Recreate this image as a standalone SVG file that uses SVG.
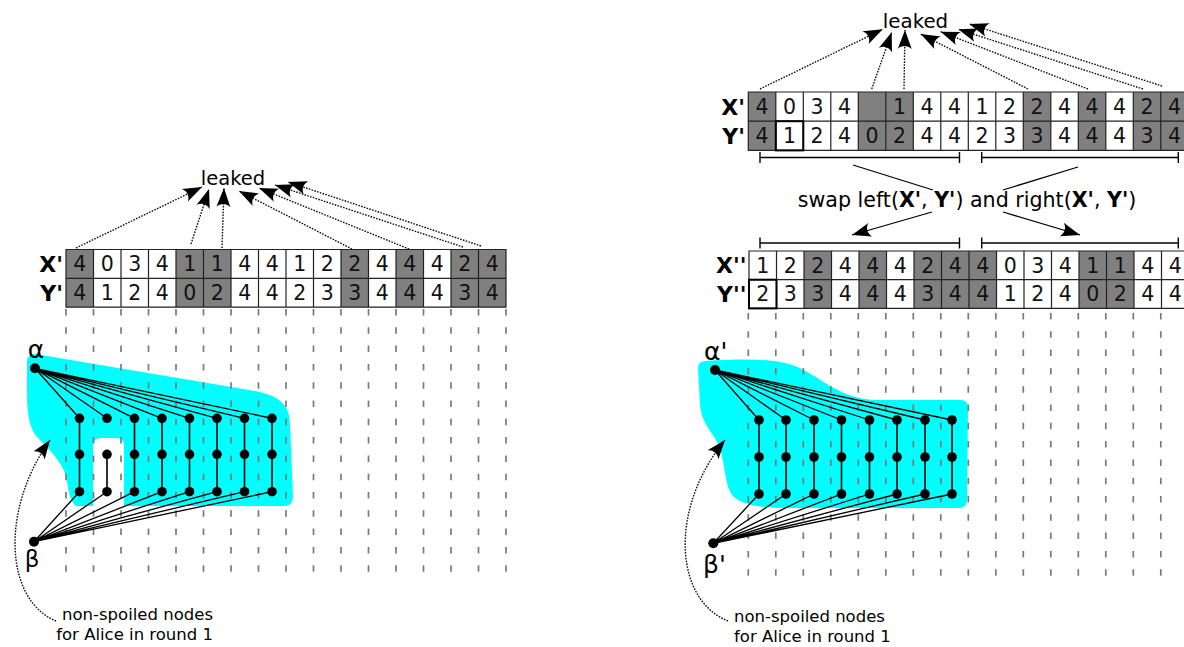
<svg xmlns="http://www.w3.org/2000/svg" width="1184" height="647" viewBox="0 0 1184 647">
<defs>
<marker id="ah" viewBox="-20 -8 21 16" markerWidth="21" markerHeight="16" refX="0" refY="0" orient="auto" markerUnits="userSpaceOnUse" overflow="visible">
<path d="M0,0 L-19,-7 C-15,-2.8 -15,2.8 -19,7 Z" fill="#000" stroke="none"/>
</marker>
<style>
.t{font-family:"DejaVu Sans",sans-serif;fill:#000}
.d{font-family:"DejaVu Sans",sans-serif;font-size:20.5px;text-anchor:middle;fill:#111}
.lb{font-family:"DejaVu Sans",sans-serif;font-size:22px;font-weight:bold;text-anchor:end}
.sh{fill:#808080}
.bg{fill:#fff}
.grid{fill:none;stroke:#222;stroke-width:1.2}
.dash{fill:none;stroke:#7a7a7a;stroke-width:1.7;stroke-dasharray:6.5 11.8}
.dot{fill:none;stroke:#111;stroke-width:1.4;stroke-dasharray:1.6 1.3}
.ln{fill:none;stroke:#000;stroke-width:1.3}
.vl{fill:none;stroke:#000;stroke-width:1.6}
.blob{fill:#00ffff}
.n{fill:#000}
.br{fill:none;stroke:#000;stroke-width:1.4}
</style>
</defs>
<rect width="1184" height="647" fill="#fff"/>

<!-- ========== LEFT ========== -->
<path class="blob" d="M27,362 Q27,354 35,354 L255,391 C280,396 290,405 290,425 L293,496 Q293,506 284,506 L124,506 L124,446 Q124,438 116,438 L101,438 Q93,438 93,446 L93,506 L76,506 C70,502 68,488 66,476 C62,462 48,448 38,438 C30,430 27,415 27,395 Z"/>

<path class="dash" d="M66,309V578 M93.5,309V578 M121,309V578 M148.5,309V578 M176,309V578 M203.5,309V578 M231,309V578 M258.5,309V578 M286,309V578 M313.5,309V578 M341,309V578 M368.5,309V578 M396,309V578 M423.5,309V578 M451,309V578 M478.5,309V578 M506,309V578"/>

<g id="L-table" transform="translate(66,249.5)">
<rect class="bg" x="0" y="0" width="440" height="57.6"/>
<rect class="sh" x="0" y="0" width="27.5" height="57.6"/>
<rect class="sh" x="110" y="0" width="55" height="57.6"/>
<rect class="sh" x="275" y="0" width="27.5" height="57.6"/>
<rect class="sh" x="330" y="0" width="27.5" height="57.6"/>
<rect class="sh" x="385" y="0" width="55" height="57.6"/>
<path class="grid" d="M0,0H440V57.6H0Z M0,28.8H440 M27.5,0V57.6 M55,0V57.6 M82.5,0V57.6 M110,0V57.6 M137.5,0V57.6 M165,0V57.6 M192.5,0V57.6 M220,0V57.6 M247.5,0V57.6 M275,0V57.6 M302.5,0V57.6 M330,0V57.6 M357.5,0V57.6 M385,0V57.6 M412.5,0V57.6"/>
<text class="d" y="21.9"><tspan x="13.75">4</tspan><tspan x="41.25">0</tspan><tspan x="68.75">3</tspan><tspan x="96.25">4</tspan><tspan x="123.75">1</tspan><tspan x="151.25">1</tspan><tspan x="178.75">4</tspan><tspan x="206.25">4</tspan><tspan x="233.75">1</tspan><tspan x="261.25">2</tspan><tspan x="288.75">2</tspan><tspan x="316.25">4</tspan><tspan x="343.75">4</tspan><tspan x="371.25">4</tspan><tspan x="398.75">2</tspan><tspan x="426.25">4</tspan></text>
<text class="d" y="50.7"><tspan x="13.75">4</tspan><tspan x="41.25">1</tspan><tspan x="68.75">2</tspan><tspan x="96.25">4</tspan><tspan x="123.75">0</tspan><tspan x="151.25">2</tspan><tspan x="178.75">4</tspan><tspan x="206.25">4</tspan><tspan x="233.75">2</tspan><tspan x="261.25">3</tspan><tspan x="288.75">3</tspan><tspan x="316.25">4</tspan><tspan x="343.75">4</tspan><tspan x="371.25">4</tspan><tspan x="398.75">3</tspan><tspan x="426.25">4</tspan></text>
</g>
<text class="lb" x="63" y="271.8">X'</text>
<text class="lb" x="63" y="300.6">Y'</text>

<g id="L-leaked"><text class="t" x="233" y="185" font-size="19.5" text-anchor="middle">leaked</text></g>

<g id="L-connectors">
<path class="dot" marker-end="url(#ah)" d="M76,248 L202,187"/>
<path class="dot" marker-end="url(#ah)" d="M191,244 L209,189"/>
<path class="dot" marker-end="url(#ah)" d="M222,248 L224,188"/>
<path class="dot" marker-end="url(#ah)" d="M352,249 L239,191"/>
<path class="dot" marker-end="url(#ah)" d="M409,249 L259,188"/>
<path class="dot" marker-end="url(#ah)" d="M463,247 L275,185"/>
<path class="dot" marker-end="url(#ah)" d="M481,246 L288,182"/>
<path class="ln" d="M35,368.3L79.5,418.3 M35,368.3L107,418.3 M35,368.3L134.5,418.3 M35,368.3L162,418.3 M35,368.3L189.5,418.3 M35,368.3L217,418.3 M35,368.3L244.5,418.3 M35,368.3L272,418.3"/>
<path class="vl" d="M79.5,418.3V491.7 M107,454.3V491.7 M134.5,418.3V491.7 M162,418.3V491.7 M189.5,418.3V491.7 M217,418.3V491.7 M244.5,418.3V491.7 M272,418.3V491.7"/>
<path class="ln" d="M34,541.7L79.5,491.7 M34,541.7L107,491.7 M34,541.7L134.5,491.7 M34,541.7L162,491.7 M34,541.7L189.5,491.7 M34,541.7L217,491.7 M34,541.7L244.5,491.7 M34,541.7L272,491.7"/>
<path class="dot" marker-end="url(#ah)" d="M56,621 C5,600 0,510 50,440"/>
</g>

<g id="L-alpha"><circle class="n" cx="35" cy="368.3" r="5"/><text class="t" x="36" y="357.5" font-size="25" text-anchor="middle">α</text></g>
<g id="L-beta"><circle class="n" cx="34" cy="541.7" r="5"/><text class="t" x="32" y="567" font-size="23" text-anchor="middle">β</text></g>
<g id="L-c0t"><circle class="n" cx="79.5" cy="418.3" r="4.8"/></g>
<g id="L-c0m"><circle class="n" cx="79.5" cy="454.3" r="4.8"/></g>
<g id="L-c0b"><circle class="n" cx="79.5" cy="491.7" r="4.8"/></g>
<g id="L-c1t"><circle class="n" cx="107" cy="418.3" r="4.8"/></g>
<g id="L-c1m"><circle class="n" cx="107" cy="454.3" r="4.8"/></g>
<g id="L-c1b"><circle class="n" cx="107" cy="491.7" r="4.8"/></g>
<g id="L-c2t"><circle class="n" cx="134.5" cy="418.3" r="4.8"/></g>
<g id="L-c2m"><circle class="n" cx="134.5" cy="454.3" r="4.8"/></g>
<g id="L-c2b"><circle class="n" cx="134.5" cy="491.7" r="4.8"/></g>
<g id="L-c3t"><circle class="n" cx="162" cy="418.3" r="4.8"/></g>
<g id="L-c3m"><circle class="n" cx="162" cy="454.3" r="4.8"/></g>
<g id="L-c3b"><circle class="n" cx="162" cy="491.7" r="4.8"/></g>
<g id="L-c4t"><circle class="n" cx="189.5" cy="418.3" r="4.8"/></g>
<g id="L-c4m"><circle class="n" cx="189.5" cy="454.3" r="4.8"/></g>
<g id="L-c4b"><circle class="n" cx="189.5" cy="491.7" r="4.8"/></g>
<g id="L-c5t"><circle class="n" cx="217" cy="418.3" r="4.8"/></g>
<g id="L-c5m"><circle class="n" cx="217" cy="454.3" r="4.8"/></g>
<g id="L-c5b"><circle class="n" cx="217" cy="491.7" r="4.8"/></g>
<g id="L-c6t"><circle class="n" cx="244.5" cy="418.3" r="4.8"/></g>
<g id="L-c6m"><circle class="n" cx="244.5" cy="454.3" r="4.8"/></g>
<g id="L-c6b"><circle class="n" cx="244.5" cy="491.7" r="4.8"/></g>
<g id="L-c7t"><circle class="n" cx="272" cy="418.3" r="4.8"/></g>
<g id="L-c7m"><circle class="n" cx="272" cy="454.3" r="4.8"/></g>
<g id="L-c7b"><circle class="n" cx="272" cy="491.7" r="4.8"/></g>

<g id="L-note"><text class="t" font-size="16.5" text-anchor="end"><tspan x="213" y="620">non-spoiled nodes</tspan><tspan x="213" y="640">for Alice in round 1</tspan></text></g>

<!-- ========== RIGHT ========== -->
<path class="blob" d="M698,368 Q698,361 706,361 C740,359 775,358 795,366 C820,376 840,399 875,400 L961,400 Q968,400 968,408 L967,500 Q967,508 959,508 L790,508 C760,508 742,505 733,496 C724,485 726,465 719,446 C712,430 702,425 700,405 Z"/>

<path class="dash" d="M748.3,313V580 M775.8,313V580 M803.3,313V580 M830.8,313V580 M858.3,313V580 M885.8,313V580 M913.3,313V580 M940.8,313V580 M968.3,313V580 M995.8,313V580 M1023.3,313V580 M1050.8,313V580 M1078.3,313V580 M1105.8,313V580 M1133.3,313V580 M1160.8,313V580"/>

<g id="R-table1" transform="translate(748.3,92)">
<rect class="bg" x="0" y="0" width="440" height="58.4"/>
<rect class="sh" x="0" y="0" width="27.5" height="58.4"/>
<rect class="sh" x="110" y="0" width="55" height="58.4"/>
<rect class="sh" x="275" y="0" width="27.5" height="58.4"/>
<rect class="sh" x="330" y="0" width="27.5" height="58.4"/>
<rect class="sh" x="385" y="0" width="55" height="58.4"/>
<path class="grid" d="M0,0H440V58.4H0Z M0,29.2H440 M27.5,0V58.4 M55,0V58.4 M82.5,0V58.4 M110,0V58.4 M137.5,0V58.4 M165,0V58.4 M192.5,0V58.4 M220,0V58.4 M247.5,0V58.4 M275,0V58.4 M302.5,0V58.4 M330,0V58.4 M357.5,0V58.4 M385,0V58.4 M412.5,0V58.4"/>
<rect x="27.5" y="29.2" width="27.5" height="29.2" fill="none" stroke="#000" stroke-width="2"/>
<text class="d" y="22.1"><tspan x="13.75">4</tspan><tspan x="41.25">0</tspan><tspan x="68.75">3</tspan><tspan x="96.25">4</tspan><tspan x="151.25">1</tspan><tspan x="178.75">4</tspan><tspan x="206.25">4</tspan><tspan x="233.75">1</tspan><tspan x="261.25">2</tspan><tspan x="288.75">2</tspan><tspan x="316.25">4</tspan><tspan x="343.75">4</tspan><tspan x="371.25">4</tspan><tspan x="398.75">2</tspan><tspan x="426.25">4</tspan></text>
<text class="d" y="51.3"><tspan x="13.75">4</tspan><tspan x="41.25">1</tspan><tspan x="68.75">2</tspan><tspan x="96.25">4</tspan><tspan x="123.75">0</tspan><tspan x="151.25">2</tspan><tspan x="178.75">4</tspan><tspan x="206.25">4</tspan><tspan x="233.75">2</tspan><tspan x="261.25">3</tspan><tspan x="288.75">3</tspan><tspan x="316.25">4</tspan><tspan x="343.75">4</tspan><tspan x="371.25">4</tspan><tspan x="398.75">3</tspan><tspan x="426.25">4</tspan></text>
</g>
<text class="lb" x="745" y="114.5">X'</text>
<text class="lb" x="745" y="143.7">Y'</text>

<g id="R-table2" transform="translate(749,251)">
<rect class="bg" x="0" y="0" width="440" height="57.4"/>
<rect class="sh" x="55" y="0" width="27.5" height="57.4"/>
<rect class="sh" x="110" y="0" width="27.5" height="57.4"/>
<rect class="sh" x="165" y="0" width="82.5" height="57.4"/>
<rect class="sh" x="330" y="0" width="55" height="57.4"/>
<path class="grid" d="M0,0H440V57.4H0Z M0,28.7H440 M27.5,0V57.4 M55,0V57.4 M82.5,0V57.4 M110,0V57.4 M137.5,0V57.4 M165,0V57.4 M192.5,0V57.4 M220,0V57.4 M247.5,0V57.4 M275,0V57.4 M302.5,0V57.4 M330,0V57.4 M357.5,0V57.4 M385,0V57.4 M412.5,0V57.4"/>
<rect x="0" y="28.7" width="27.5" height="28.7" fill="none" stroke="#000" stroke-width="2"/>
<text class="d" y="21.7"><tspan x="13.75">1</tspan><tspan x="41.25">2</tspan><tspan x="68.75">2</tspan><tspan x="96.25">4</tspan><tspan x="123.75">4</tspan><tspan x="151.25">4</tspan><tspan x="178.75">2</tspan><tspan x="206.25">4</tspan><tspan x="233.75">4</tspan><tspan x="261.25">0</tspan><tspan x="288.75">3</tspan><tspan x="316.25">4</tspan><tspan x="343.75">1</tspan><tspan x="371.25">1</tspan><tspan x="398.75">4</tspan><tspan x="426.25">4</tspan></text>
<text class="d" y="50.4"><tspan x="13.75">2</tspan><tspan x="41.25">3</tspan><tspan x="68.75">3</tspan><tspan x="96.25">4</tspan><tspan x="123.75">4</tspan><tspan x="151.25">4</tspan><tspan x="178.75">3</tspan><tspan x="206.25">4</tspan><tspan x="233.75">4</tspan><tspan x="261.25">1</tspan><tspan x="288.75">2</tspan><tspan x="316.25">4</tspan><tspan x="343.75">0</tspan><tspan x="371.25">2</tspan><tspan x="398.75">4</tspan><tspan x="426.25">4</tspan></text>
</g>
<text class="lb" x="746.5" y="273.2">X''</text>
<text class="lb" x="746.5" y="301.9">Y''</text>

<g id="R-leaked"><text class="t" x="915.5" y="27.5" font-size="19.8" text-anchor="middle">leaked</text></g>
<g id="R-swap"><text class="t" x="967" y="206.5" font-size="20.6" text-anchor="middle">swap left(<tspan font-weight="bold">X'</tspan>, <tspan font-weight="bold">Y'</tspan>) and right(<tspan font-weight="bold">X'</tspan>, <tspan font-weight="bold">Y'</tspan>)</text></g>

<g id="R-connectors">
<path class="dot" marker-end="url(#ah)" d="M760,89 L882.7,29.3"/>
<path class="dot" marker-end="url(#ah)" d="M871.7,89 L891.7,32.3"/>
<path class="dot" marker-end="url(#ah)" d="M904,89 L905,30"/>
<path class="dot" marker-end="url(#ah)" d="M1028,89 L920.7,34"/>
<path class="dot" marker-end="url(#ah)" d="M1088,89 L940.7,31.7"/>
<path class="dot" marker-end="url(#ah)" d="M1143,89 L958.3,29.3"/>
<path class="dot" marker-end="url(#ah)" d="M1162,86 L969.3,24"/>
<path class="br" d="M760,157.5H959.5 M760,152V163 M959.5,152V163 M981.7,157.5H1178.3 M981.7,152V163 M1178.3,152V163"/>
<path class="br" d="M760,243H959.5 M760,237.5V248.5 M959.5,237.5V248.5 M981.7,243H1178.3 M981.7,237.5V248.5 M1178.3,237.5V248.5"/>
<path class="ln" d="M853,165 L933,190 M1078,167 L1003,190"/>
<path class="ln" marker-end="url(#ah)" d="M932,212 L852,235"/>
<path class="ln" marker-end="url(#ah)" d="M1003,212 L1080,235"/>
<path class="ln" d="M715,370L759,420 M715,370L786,420 M715,370L814,420 M715,370L841.5,420 M715,370L869.5,420 M715,370L897,420 M715,370L925,420 M715,370L952,420"/>
<path class="vl" d="M759,420V494 M786,420V494 M814,420V494 M841.5,420V494 M869.5,420V494 M897,420V494 M925,420V494 M952,420V494"/>
<path class="ln" d="M713.3,543.3L759,494 M713.3,543.3L786,494 M713.3,543.3L814,494 M713.3,543.3L841.5,494 M713.3,543.3L869.5,494 M713.3,543.3L897,494 M713.3,543.3L925,494 M713.3,543.3L952,494"/>
<path class="dot" marker-end="url(#ah)" d="M728,621 C675,600 668,510 725,440"/>
</g>

<g id="R-alpha"><circle class="n" cx="715" cy="370" r="5"/><text class="t" x="704" y="359.5" font-size="25">α'</text></g>
<g id="R-beta"><circle class="n" cx="713.3" cy="543.3" r="5"/><text class="t" x="703" y="573" font-size="25">β'</text></g>
<g id="R-c0t"><circle class="n" cx="759" cy="420" r="4.8"/></g>
<g id="R-c0m"><circle class="n" cx="759" cy="457" r="4.8"/></g>
<g id="R-c0b"><circle class="n" cx="759" cy="494" r="4.8"/></g>
<g id="R-c1t"><circle class="n" cx="786" cy="420" r="4.8"/></g>
<g id="R-c1m"><circle class="n" cx="786" cy="457" r="4.8"/></g>
<g id="R-c1b"><circle class="n" cx="786" cy="494" r="4.8"/></g>
<g id="R-c2t"><circle class="n" cx="814" cy="420" r="4.8"/></g>
<g id="R-c2m"><circle class="n" cx="814" cy="457" r="4.8"/></g>
<g id="R-c2b"><circle class="n" cx="814" cy="494" r="4.8"/></g>
<g id="R-c3t"><circle class="n" cx="841.5" cy="420" r="4.8"/></g>
<g id="R-c3m"><circle class="n" cx="841.5" cy="457" r="4.8"/></g>
<g id="R-c3b"><circle class="n" cx="841.5" cy="494" r="4.8"/></g>
<g id="R-c4t"><circle class="n" cx="869.5" cy="420" r="4.8"/></g>
<g id="R-c4m"><circle class="n" cx="869.5" cy="457" r="4.8"/></g>
<g id="R-c4b"><circle class="n" cx="869.5" cy="494" r="4.8"/></g>
<g id="R-c5t"><circle class="n" cx="897" cy="420" r="4.8"/></g>
<g id="R-c5m"><circle class="n" cx="897" cy="457" r="4.8"/></g>
<g id="R-c5b"><circle class="n" cx="897" cy="494" r="4.8"/></g>
<g id="R-c6t"><circle class="n" cx="925" cy="420" r="4.8"/></g>
<g id="R-c6m"><circle class="n" cx="925" cy="457" r="4.8"/></g>
<g id="R-c6b"><circle class="n" cx="925" cy="494" r="4.8"/></g>
<g id="R-c7t"><circle class="n" cx="952" cy="420" r="4.8"/></g>
<g id="R-c7m"><circle class="n" cx="952" cy="457" r="4.8"/></g>
<g id="R-c7b"><circle class="n" cx="952" cy="494" r="4.8"/></g>

<g id="R-note"><text class="t" font-size="16.5"><tspan x="734" y="621.5">non-spoiled nodes</tspan><tspan x="734" y="641.5">for Alice in round 1</tspan></text></g>
</svg>
